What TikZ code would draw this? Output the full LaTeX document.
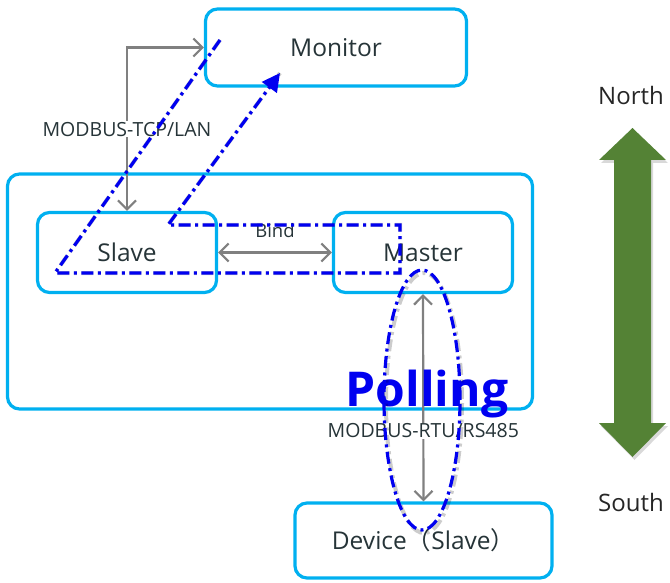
\documentclass[tikz,border=0pt]{standalone}
\usepackage{fontspec}
\setmainfont{Open Sans}
\newfontfamily\cjk{Noto Sans CJK SC}
\usetikzlibrary{arrows.meta,shapes.geometric}
\definecolor{boxc}{RGB}{0,176,240}
\definecolor{txt}{RGB}{38,52,56}
\definecolor{pblue}{RGB}{0,0,240}
\definecolor{grn}{RGB}{84,130,53}
\definecolor{garr}{RGB}{128,128,128}
\begin{document}
\begin{tikzpicture}[x=1pt,y=-1pt,
  box/.style={draw=boxc, fill=white, line width=3.2pt, rounded corners=12pt, inner sep=0pt, text=txt, font=\fontsize{24.5}{27}\selectfont},
  garrow/.style={draw=garr, line width=2.2pt, {Straight Barb[length=9pt,width=18pt]}-{Straight Barb[length=9pt,width=18pt]}},
  lbl/.style={text=txt, font=\fontsize{19.5}{22}\selectfont, inner sep=1pt},
  dd/.style={draw=pblue, line width=3.2pt, dash pattern=on 12pt off 4.5pt on 3pt off 4.5pt},
  ddshadow/.style={draw=black, opacity=0.2, line width=4pt, dash pattern=on 12pt off 4.5pt on 3pt off 4.5pt},
  side/.style={text=black!85, font=\fontsize{24}{27}\selectfont}
]
\useasboundingbox (0,0) rectangle (670,583);
% boxes
\node[box, minimum width=525pt, minimum height=235pt] (ctrl) at (270,291.5) {};
\node[box, minimum width=261pt, minimum height=77pt] (monitor) at (336,47.5) {Monitor};
\node[box, minimum width=179pt, minimum height=80pt] (slave) at (127,252.5) {Slave};
\node[box, minimum width=179pt, minimum height=80pt] (master) at (423,252.5) {Master};
\node[box, minimum width=257pt, minimum height=75pt] (device) at (423.5,540.5) {Device{\cjk （}Slave{\cjk ）}};
% grey connectors
\draw[garrow] (slave.north) |- node[pos=0.25, lbl, fill=white] {MODBUS-TCP/LAN} (monitor.west);
\draw[garrow] (slave.east) -- node[midway, lbl, anchor=base, yshift=15.5pt, font=\fontsize{18.5}{21}\selectfont] {Bind} (master.west);
\draw[garrow] (master.south) -- node[pos=0.66, lbl, fill=white] {MODBUS-RTU/RS485} (device.north);
% polling label
\node[text=pblue, font=\bfseries\fontsize{48}{52}\selectfont, anchor=base, inner sep=0pt] (polling) at (427,406) {Polling};
% blue dash-dot path
\coordinate (b1) at (220,40);
\coordinate (b2) at (55,273);
\coordinate (b3) at (400,273);
\coordinate (b4) at (400,225);
\coordinate (b5) at (168,225);
\coordinate (b6) at (280,73);
\begin{scope}[xshift=2pt, yshift=-3pt]
\draw[ddshadow] (b1) -- (b2) -- (b3) -- (b4) -- (b5) -- (b6);
\draw[ddshadow] (422,400) ellipse [x radius=38, y radius=130];
\end{scope}
\draw[dd, -{Triangle[length=18pt,width=18pt]}] (b1) -- (b2) -- (b3) -- (b4) -- (b5) -- (b6);
\node[ellipse, dd, minimum width=76pt, minimum height=260pt, inner sep=0pt] (poll) at (422,400) {};
% green double arrow
\fill[black, opacity=0.15] (634.5,131) -- (668,163) -- (653,163) -- (653,426) -- (668,426) -- (634.5,460) -- (601,426) -- (616,426) -- (616,163) -- (601,163) -- cycle;
\fill[grn] (632.5,128) -- (666,160) -- (651,160) -- (651,423) -- (666,423) -- (632.5,457) -- (599,423) -- (614,423) -- (614,160) -- (599,160) -- cycle;
\node[side] (north) at (631,96) {North};
\node[side] (south) at (631,502) {South};
\end{tikzpicture}
\end{document}
